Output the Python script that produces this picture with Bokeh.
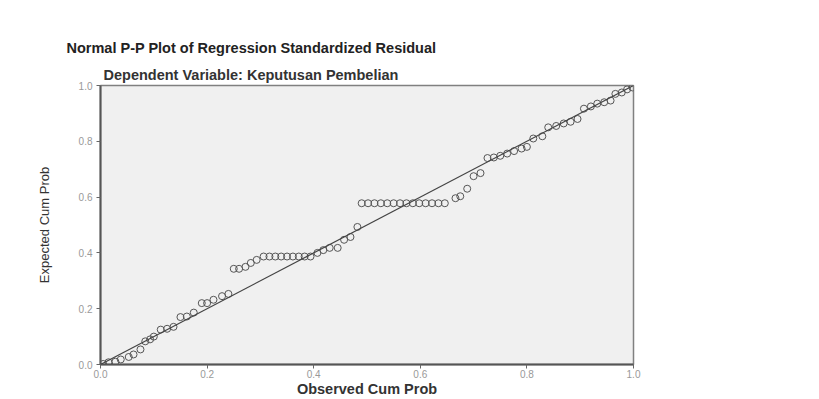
from bokeh.plotting import figure
from bokeh.models import FixedTicker, Title, NumeralTickFormatter, Slope
from bokeh.embed import file_html
from bokeh.resources import INLINE

# Observed cumulative probability (x) and expected cumulative probability (y)
observed = [
    0.005, 0.015, 0.028, 0.038, 0.053, 0.062, 0.075, 0.084, 0.093, 0.100,
    0.113, 0.125, 0.137, 0.150, 0.162, 0.175, 0.190, 0.200, 0.212, 0.228, 0.240,
    0.250, 0.260, 0.272, 0.282, 0.293,
    0.306, 0.317, 0.328, 0.339, 0.350, 0.361, 0.372, 0.383, 0.394,
    0.407, 0.418, 0.430, 0.445, 0.457, 0.469, 0.482,
    0.490, 0.502, 0.514, 0.526, 0.538, 0.550, 0.562, 0.574, 0.586, 0.598,
    0.610, 0.622, 0.634, 0.646,
    0.666, 0.675, 0.688, 0.700, 0.713,
    0.726, 0.738, 0.750, 0.763, 0.776, 0.790, 0.800, 0.812, 0.829, 0.840,
    0.855, 0.869, 0.882, 0.895, 0.907, 0.920, 0.932, 0.945, 0.957, 0.966,
    0.978, 0.988, 0.998,
]
expected = [
    0.002, 0.008, 0.010, 0.018, 0.027, 0.036, 0.054, 0.083, 0.090, 0.100,
    0.125, 0.128, 0.135, 0.170, 0.172, 0.186, 0.220, 0.220, 0.232, 0.245, 0.253,
    0.343, 0.343, 0.350, 0.364, 0.375,
    0.387, 0.387, 0.387, 0.387, 0.387, 0.387, 0.387, 0.387, 0.387,
    0.400, 0.410, 0.418, 0.418, 0.447, 0.457, 0.493,
    0.578, 0.578, 0.578, 0.578, 0.578, 0.578, 0.578, 0.578, 0.578, 0.578,
    0.578, 0.578, 0.578, 0.578,
    0.596, 0.603, 0.630, 0.675, 0.686,
    0.740, 0.742, 0.748, 0.756, 0.765, 0.774, 0.780, 0.810, 0.818, 0.850,
    0.855, 0.864, 0.870, 0.880, 0.917, 0.925, 0.935, 0.940, 0.946, 0.970,
    0.975, 0.986, 0.993,
]
ticks = [0.0, 0.2, 0.4, 0.6, 0.8, 1.0]

title_text = "Normal P-P Plot of Regression Standardized Residual"
subtitle_text = "Dependent Variable: Keputusan Pembelian"
x_label = "Observed Cum Prob"
y_label = "Expected Cum Prob"

FONT = "Liberation Sans"

p = figure(width=810, height=399, output_backend="svg", toolbar_location=None,
           x_range=(0, 1), y_range=(0, 1),
           min_border_left=100, min_border_right=177, min_border_top=85,
           min_border_bottom=34)
p.background_fill_color = "#f0f0f0"
p.border_fill_color = "white"
p.outline_line_color = "#808080"
p.outline_line_width = 1.5
p.xgrid.visible = False
p.ygrid.visible = False

sub = Title(text=subtitle_text, align="left", offset=3, standoff=5,
            text_font=FONT, text_font_size="14.5px", text_font_style="bold",
            text_color="#333333")
ttl = Title(text=title_text, align="left", offset=-34, standoff=13,
            text_font=FONT, text_font_size="14.5px", text_font_style="bold",
            text_color="#222222")
p.add_layout(sub, "above")
p.add_layout(ttl, "above")

for ax in (p.xaxis[0], p.yaxis[0]):
    ax.ticker = FixedTicker(ticks=ticks)
    ax.formatter = NumeralTickFormatter(format="0.0")
    ax.axis_line_color = "#555555"
    ax.axis_line_width = 2
    ax.major_tick_line_color = "#666666"
    ax.major_tick_out = 4
    ax.major_tick_in = 0
    ax.minor_tick_line_color = None
    ax.major_label_text_font = FONT
    ax.major_label_text_font_size = "10px"
    ax.major_label_text_color = "#999999"
    ax.axis_label_text_font = FONT
    ax.axis_label_text_color = "#333333"

p.xaxis.axis_label = x_label
p.xaxis.major_label_standoff = 1
p.xaxis.axis_label_standoff = 0
p.xaxis.axis_label_text_font_size = "14.5px"
p.xaxis.axis_label_text_font_style = "bold"

p.yaxis.axis_label = y_label
p.yaxis.major_label_standoff = 4
p.yaxis.axis_label_standoff = 24
p.yaxis.axis_label_text_font_size = "13px"
p.yaxis.axis_label_text_font_style = "normal"

p.add_layout(Slope(gradient=1, y_intercept=0, line_color="#444444", line_width=1.2))

p.scatter(observed, expected, marker="circle", size=7, fill_color=None,
          line_color="#555555", line_width=1)

open("out.html", "w").write(file_html(p, INLINE))
